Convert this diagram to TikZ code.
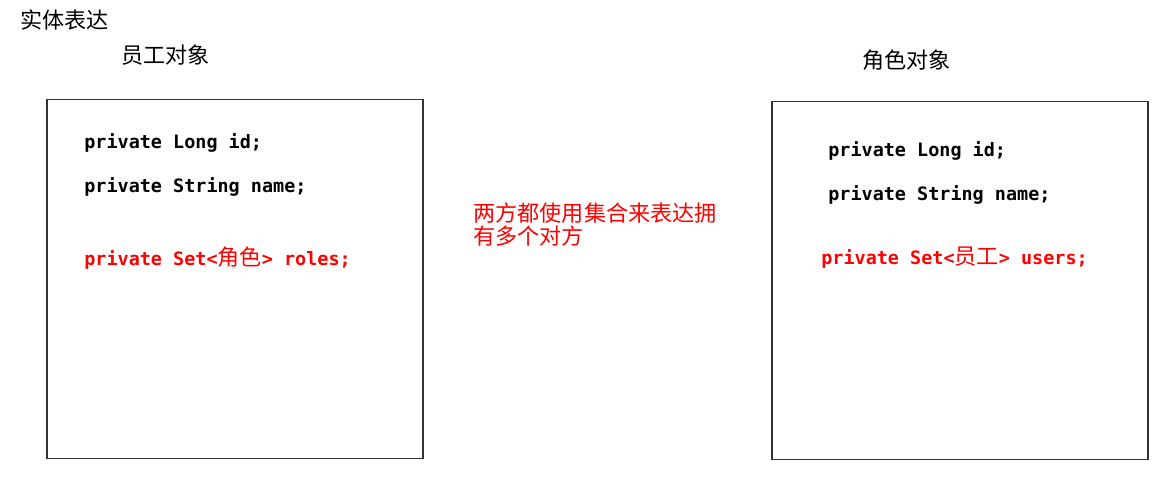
\documentclass[tikz,border=0pt]{standalone}
\usepackage{fontspec}
\usepackage{tikz}
\newfontfamily\cjk{Noto Sans CJK SC}
\newfontfamily\codefont{DejaVu Sans Mono}

\begin{document}
\begin{tikzpicture}
[x=0.02cm,y=-0.02cm,
title/.style={anchor=west,inner sep=0pt,font=\cjk\fontsize{12.6}{15}\selectfont},
note/.style={title,text=red},
code/.style={anchor=west,inner sep=0pt,font=\codefont\bfseries\fontsize{10.5}{12}\selectfont},
redcode/.style={code,text=red},
box/.style={rectangle,draw=black!80,line width=0.8pt,
inner sep=0pt,minimum width=7.52cm,minimum height=7.17cm}]
\useasboundingbox (0,0) rectangle (1166,479);
\node at (20,20) [title] (entity){实体表达};
\node at (121,55) [title] (staff){员工对象};
\node at (862,60) [title] (role){角色对象};
\node at (235,279) [box] (staffbox){};
\node at (960,280.5) [box] (rolebox){};
\node at (84,142.5) [code] (sid){private Long id;};
\node at (84,186.5) [code] (sname){private String name;};
\node at (84,258) [redcode] (sroles){private Set<{\cjk\mdseries\fontsize{12.6}{15}\selectfont 角色}> roles;};
\node at (828,150.5) [code] (rid){private Long id;};
\node at (828,194.5) [code] (rname){private String name;};
\node at (821,258) [redcode] (rusers){private Set<{\cjk\mdseries\fontsize{12.6}{15}\selectfont 员工}> users;};
\node at (473,213) [note] (both){两方都使用集合来表达拥};
\node at (473,236) [note] {有多个对方};
\end{tikzpicture}
\end{document}
